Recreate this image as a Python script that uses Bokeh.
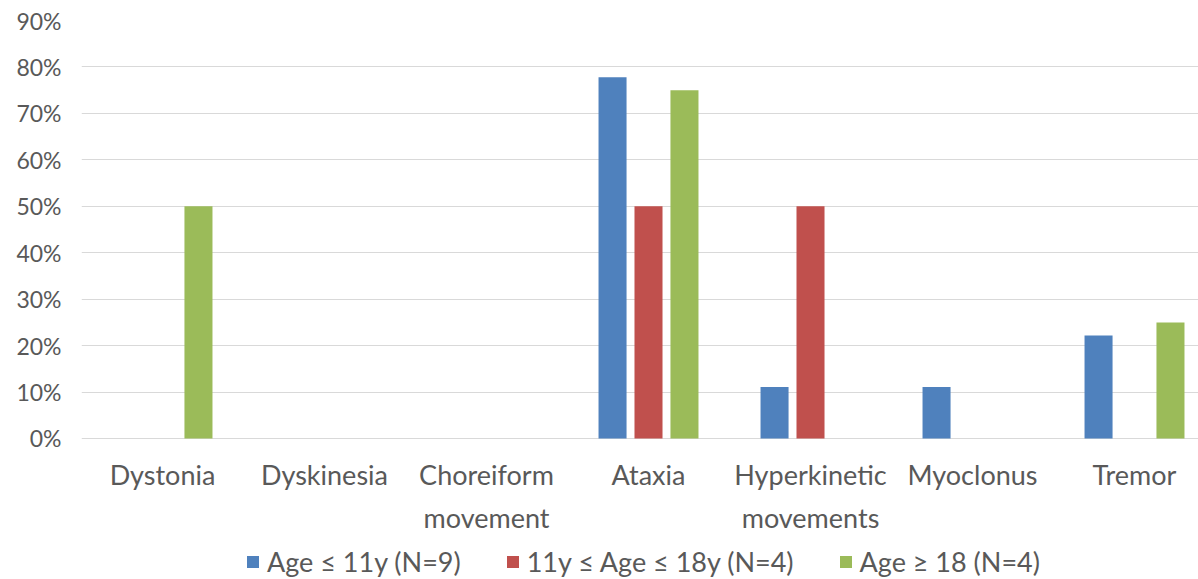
from bokeh.plotting import figure
from bokeh.models import (ColumnDataSource, Range1d, FixedTicker, PrintfTickFormatter,
                          Legend, LegendItem)
from bokeh.core.properties import value
from bokeh.transform import dodge
from bokeh.embed import file_html
from bokeh.resources import INLINE

# Movement disorder frequency by age group (percent of patients)
categories = ["Dystonia", "Dyskinesia", "Choreiform\nmovement", "Ataxia",
              "Hyperkinetic\nmovements", "Myoclonus", "Tremor"]
age_le_11 = [0, 0, 0, 77.8, 11.1, 11.1, 22.2]
age_11_18 = [0, 0, 0, 50, 50, 0, 0]
age_ge_18 = [50, 0, 0, 75, 0, 0, 25]
series_names = ["Age ≤ 11y (N=9)", "11y ≤ Age ≤ 18y (N=4)", "Age ≥ 18 (N=4)"]
colors = ["#4F81BD", "#C0504D", "#9BBB59"]
y_ticks = [0, 10, 20, 30, 40, 50, 60, 70, 80, 90]

FONT = "Lato"
TEXT = "#595959"

xpos = [i + 0.5 for i in range(len(categories))]
source = ColumnDataSource(dict(x=xpos, a=age_le_11, b=age_11_18, c=age_ge_18))
label_src = ColumnDataSource(dict(x=xpos, y=[0] * len(xpos), text=categories))

# the plotting frame runs to the bottom of the canvas; the space under 0 %
# holds the category names and the legend
p = figure(frame_width=1117, frame_height=559, output_backend="svg", toolbar_location=None,
           x_range=Range1d(0, 6.895), y_range=Range1d(-30.36, 90),
           min_border_left=81, min_border_right=0, min_border_top=20,
           min_border_bottom=0)
p.outline_line_color = None
p.background_fill_color = "white"
p.border_fill_color = "white"

bar_w = 0.173
offs = [-0.222, 0.0, 0.222]
renderers = []
for col, off, color in zip(["a", "b", "c"], offs, colors):
    r = p.vbar(x=dodge("x", off, range=p.x_range), top=col, width=bar_w,
               source=source, fill_color=color, line_color=None)
    renderers.append(r)

# category names under the baseline
p.text(x="x", y="y", text="text", source=label_src, text_align="center",
       text_baseline="top", y_offset=20, text_font=value(FONT),
       text_font_size="27px", text_color=TEXT, text_line_height=1.3)

# grid
p.xgrid.grid_line_color = None
p.ygrid.grid_line_color = "#D9D9D9"
p.ygrid.grid_line_width = 1
p.ygrid.ticker = FixedTicker(ticks=y_ticks)

# y axis
p.yaxis.ticker = FixedTicker(ticks=y_ticks)
p.yaxis.formatter = PrintfTickFormatter(format="%d%%")
p.yaxis.axis_line_color = None
p.yaxis.major_tick_line_color = None
p.yaxis.minor_tick_line_color = None
p.yaxis.major_label_text_font = FONT
p.yaxis.major_label_text_font_size = "23px"
p.yaxis.major_label_text_color = TEXT
p.yaxis.major_label_standoff = 14

p.xaxis.visible = False

legend = Legend(items=[LegendItem(label=n, renderers=[r]) for n, r in zip(series_names, renderers)],
                orientation="horizontal", location=(164, 1),
                label_text_font=FONT, label_text_font_size="27px", label_text_color=TEXT,
                glyph_width=15, glyph_height=15, label_standoff=7, spacing=44,
                border_line_color=None, background_fill_alpha=0, padding=0, margin=0)
p.add_layout(legend, "center")

open("out.html", "w").write(file_html(p, INLINE))
